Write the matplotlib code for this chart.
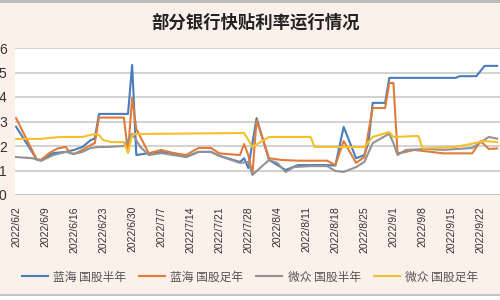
import pandas as pd
import matplotlib
matplotlib.use("Agg")
import matplotlib.pyplot as plt
import matplotlib.dates as mdates
from matplotlib.lines import Line2D
from matplotlib.patches import Rectangle

plt.rcParams['font.family'] = ['Liberation Sans', 'Noto Sans CJK SC']

title = "部分银行快贴利率运行情况"
series_names = ["蓝海 国股半年", "蓝海 国股足年", "微众 国股半年", "微众 国股足年"]

blue_dates = ["6/2", "6/7", "6/8", "6/11", "6/14", "6/16", "6/18", "6/20", "6/21", "6/22",
              "6/29", "6/30", "7/1", "7/4", "7/7", "7/10", "7/13", "7/16", "7/19", "7/21",
              "7/26", "7/27", "7/28", "7/30", "8/2", "8/6", "8/9", "8/16", "8/18", "8/20",
              "8/23", "8/25", "8/26", "8/27", "8/30", "8/31", "9/16", "9/17", "9/21", "9/23", "9/26"]
blue_vals = [2.79, 1.45, 1.43, 1.71, 1.76, 1.84, 1.96, 2.24, 2.31, 3.31,
             3.31, 5.31, 1.63, 1.71, 1.75, 1.71, 1.55, 1.76, 1.76, 1.6,
             1.35, 1.5, 1.1, 3.14, 1.43, 1.02, 1.22, 1.22, 1.2, 2.78,
             1.5, 1.63, 2.16, 3.76, 3.76, 4.78, 4.78, 4.85, 4.85, 5.27, 5.27]

orange_dates = ["6/2", "6/7", "6/8", "6/10", "6/12", "6/14", "6/15", "6/16", "6/18", "6/20",
                "6/21", "6/22", "6/28", "6/29", "6/30", "7/1", "7/4", "7/7", "7/10", "7/13",
                "7/16", "7/19", "7/21", "7/26", "7/27", "7/28", "7/29", "7/30", "8/2", "8/5",
                "8/9", "8/16", "8/18", "8/20", "8/23", "8/25", "8/26", "8/27", "8/30", "8/31",
                "9/1", "9/2", "9/4", "9/6", "9/13", "9/20", "9/22", "9/24", "9/26"]
orange_vals = [3.14, 1.45, 1.43, 1.71, 1.9, 1.96, 1.71, 1.67, 1.84, 2.04,
               2.12, 3.16, 3.16, 1.75, 3.96, 2.7, 1.7, 1.84, 1.71, 1.63,
               1.92, 1.92, 1.7, 1.63, 2.08, 1.63, 0.85, 3.05, 1.5, 1.43,
               1.4, 1.4, 1.22, 2.2, 1.31, 1.55, 2.6, 3.55, 3.55, 4.57,
               4.57, 1.7, 1.76, 1.84, 1.7, 1.7, 2.2, 1.88, 1.9]

gray_dates = ["6/2", "6/6", "6/8", "6/11", "6/14", "6/16", "6/18", "6/20", "6/22", "6/24",
              "6/28", "6/29", "6/30", "7/2", "7/4", "7/7", "7/13", "7/16", "7/19", "7/21",
              "7/26", "7/28", "7/29", "8/2", "8/4", "8/6", "8/8", "8/12", "8/16", "8/18",
              "8/20", "8/23", "8/25", "8/27", "8/31", "9/1", "9/2", "9/4", "9/9", "9/13",
              "9/20", "9/24", "9/26"]
gray_vals = [1.55, 1.5, 1.39, 1.63, 1.76, 1.68, 1.76, 1.92, 1.96, 1.96,
             2.0, 2.24, 2.5, 1.96, 1.63, 1.71, 1.55, 1.76, 1.76, 1.6,
             1.31, 1.35, 0.82, 1.43, 1.31, 0.94, 1.14, 1.18, 1.18, 0.98,
             0.94, 1.14, 1.35, 2.12, 2.5, 2.12, 1.63, 1.84, 1.88, 1.84,
             1.92, 2.37, 2.3]

yellow_dates = ["6/2", "6/8", "6/10", "6/13", "6/18", "6/21", "6/22", "6/23", "6/25", "6/28",
                "6/29", "6/30", "7/1", "7/27", "7/29", "8/2", "8/12", "8/13", "8/25", "8/27",
                "8/31", "9/1", "9/7", "9/8", "9/16", "9/23", "9/26"]
yellow_vals = [2.29, 2.29, 2.33, 2.37, 2.37, 2.49, 2.45, 2.24, 2.16, 2.16,
               1.71, 2.45, 2.49, 2.53, 1.96, 2.37, 2.37, 1.96, 1.96, 2.37,
               2.57, 2.37, 2.41, 1.9, 1.96, 2.2, 2.16]

tick_labels = ["2022/6/2", "2022/6/9", "2022/6/16", "2022/6/23", "2022/6/30", "2022/7/7",
               "2022/7/14", "2022/7/21", "2022/7/28", "2022/8/4", "2022/8/11", "2022/8/18",
               "2022/8/25", "2022/9/1", "2022/9/8", "2022/9/15", "2022/9/22"]
y_ticks = [0, 1, 2, 3, 4, 5, 6]

colors = ["#4A7EBB", "#E07B39", "#929292", "#F5C02C"]
bg = "#FBF0EA"


def to_dates(md):
    return pd.to_datetime(["2022/" + s for s in md], format="%Y/%m/%d")


fig = plt.figure(figsize=(5, 3), dpi=100, facecolor=bg)
ax = fig.add_axes([15 / 500, 1 - 195 / 300, 485 / 500, 147 / 300])
ax.set_facecolor("white")

all_series = [(blue_dates, blue_vals), (orange_dates, orange_vals),
              (gray_dates, gray_vals), (yellow_dates, yellow_vals)]
for (d, v), c, name in zip(all_series, colors, series_names):
    ax.plot(to_dates(d), v, color=c, lw=1.5, label=name, solid_joinstyle="round")

start = pd.Timestamp("2022-06-02")
ax.set_xlim(start - pd.Timedelta(hours=6), start + pd.Timedelta(days=116.7))
ax.set_ylim(0, 6)

for y in y_ticks:
    ax.axhline(y, color="#CFCFCF" if y else "#BDBDBD", lw=1.3, zorder=0)

ax.set_yticks(y_ticks)
ax.set_yticklabels([str(y) for y in y_ticks], fontsize=10, color="#333333")
ax.set_xticks(pd.to_datetime([t for t in tick_labels], format="%Y/%m/%d"))
ax.set_xticklabels(tick_labels, rotation=90, fontsize=7.5, color="#333333",
                   va="top", ha="center")
ax.tick_params(axis="y", length=0, pad=6)
ax.tick_params(axis="x", length=0, pad=8)
for s in ax.spines.values():
    s.set_visible(False)

fig.text(0.51, 1 - 23 / 300, title, ha="center", va="center", fontsize=12.5,
         fontweight="bold", color="#222222", family=["Noto Sans CJK SC"])

fig.legend(loc="center", bbox_to_anchor=(0.5, 1 - 277 / 300), ncol=4, frameon=False,
           fontsize=8.5, handlelength=2.2, handletextpad=0.45, columnspacing=1.1,
           labelcolor="#555555", prop={"family": ["Noto Sans CJK SC"], "size": 8.5})

fig.add_artist(Rectangle((0, 1 - 3 / 300), 1, 3 / 300, transform=fig.transFigure,
                         color="#BDBDBD", lw=0))
fig.add_artist(Line2D([0, 1], [1 - 295 / 300] * 2, transform=fig.transFigure,
                      color="#C4C4C4", lw=1.5))
fig.add_artist(Rectangle((0, 0), 1, 4 / 300, transform=fig.transFigure,
                         color="white", lw=0))

fig.savefig("out.png", dpi=100, facecolor=bg)
